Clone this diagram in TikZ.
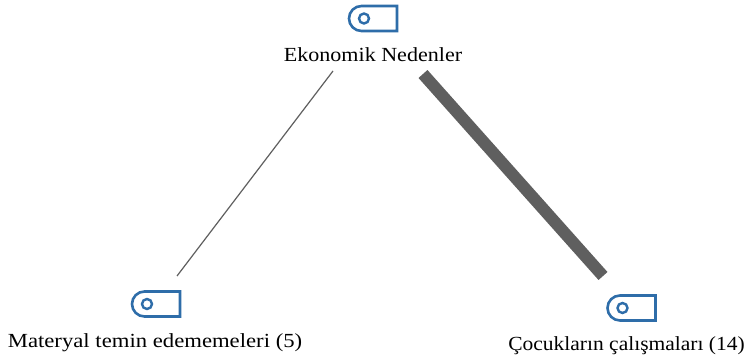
\documentclass[tikz,border=0pt]{standalone}
\usepackage{fontspec}
\setmainfont{Liberation Serif}
\definecolor{tagblue}{HTML}{2E6DA9}
\definecolor{linkgrey}{HTML}{5F5F5F}
\tikzset{
  x=1pt,y=-1pt,
  lab/.style={inner sep=0pt,text=black,font=\fontsize{20}{24}\selectfont,anchor=base},
  tagicon/.pic={
    \draw[tagblue,line width=2.6pt,line join=miter]
      (24,-12.5) -- (-11.5,-12.5) arc[start angle=-90,end angle=-270,radius=12.5] -- (24,12.5) -- cycle;
    \draw[tagblue,line width=2.4pt] (-9,0) circle[radius=5];
  },
  thinlink/.style={draw=linkgrey,line width=1.2pt},
  thicklink/.style={draw=linkgrey,line width=12pt},
}
\begin{document}
\begin{tikzpicture}
\useasboundingbox[fill=white] (0,0) rectangle (755,358);
\pic at (373,18.5) {tagicon};
\pic at (156,304) {tagicon};
\pic at (631.5,308) {tagicon};
\node[lab] (eko) at (373,61.5) {\scalebox{1.103}[1]{Ekonomik Nedenler}};
\node[lab] (mat) at (155,347) {\scalebox{1.135}[1]{Materyal temin edememeleri (5)}};
\node[lab] (coc) at (626.5,350.5) {\scalebox{1.075}[1]{Çocukların çalışmaları (14)}};
\coordinate (ekoL) at (333,71);
\coordinate (ekoR) at (423,74);
\coordinate (matT) at (177,276);
\coordinate (cocT) at (603,276);
\draw[thinlink] (ekoL) -- (matT);
\draw[thicklink] (ekoR) -- (cocT);
\end{tikzpicture}
\end{document}
